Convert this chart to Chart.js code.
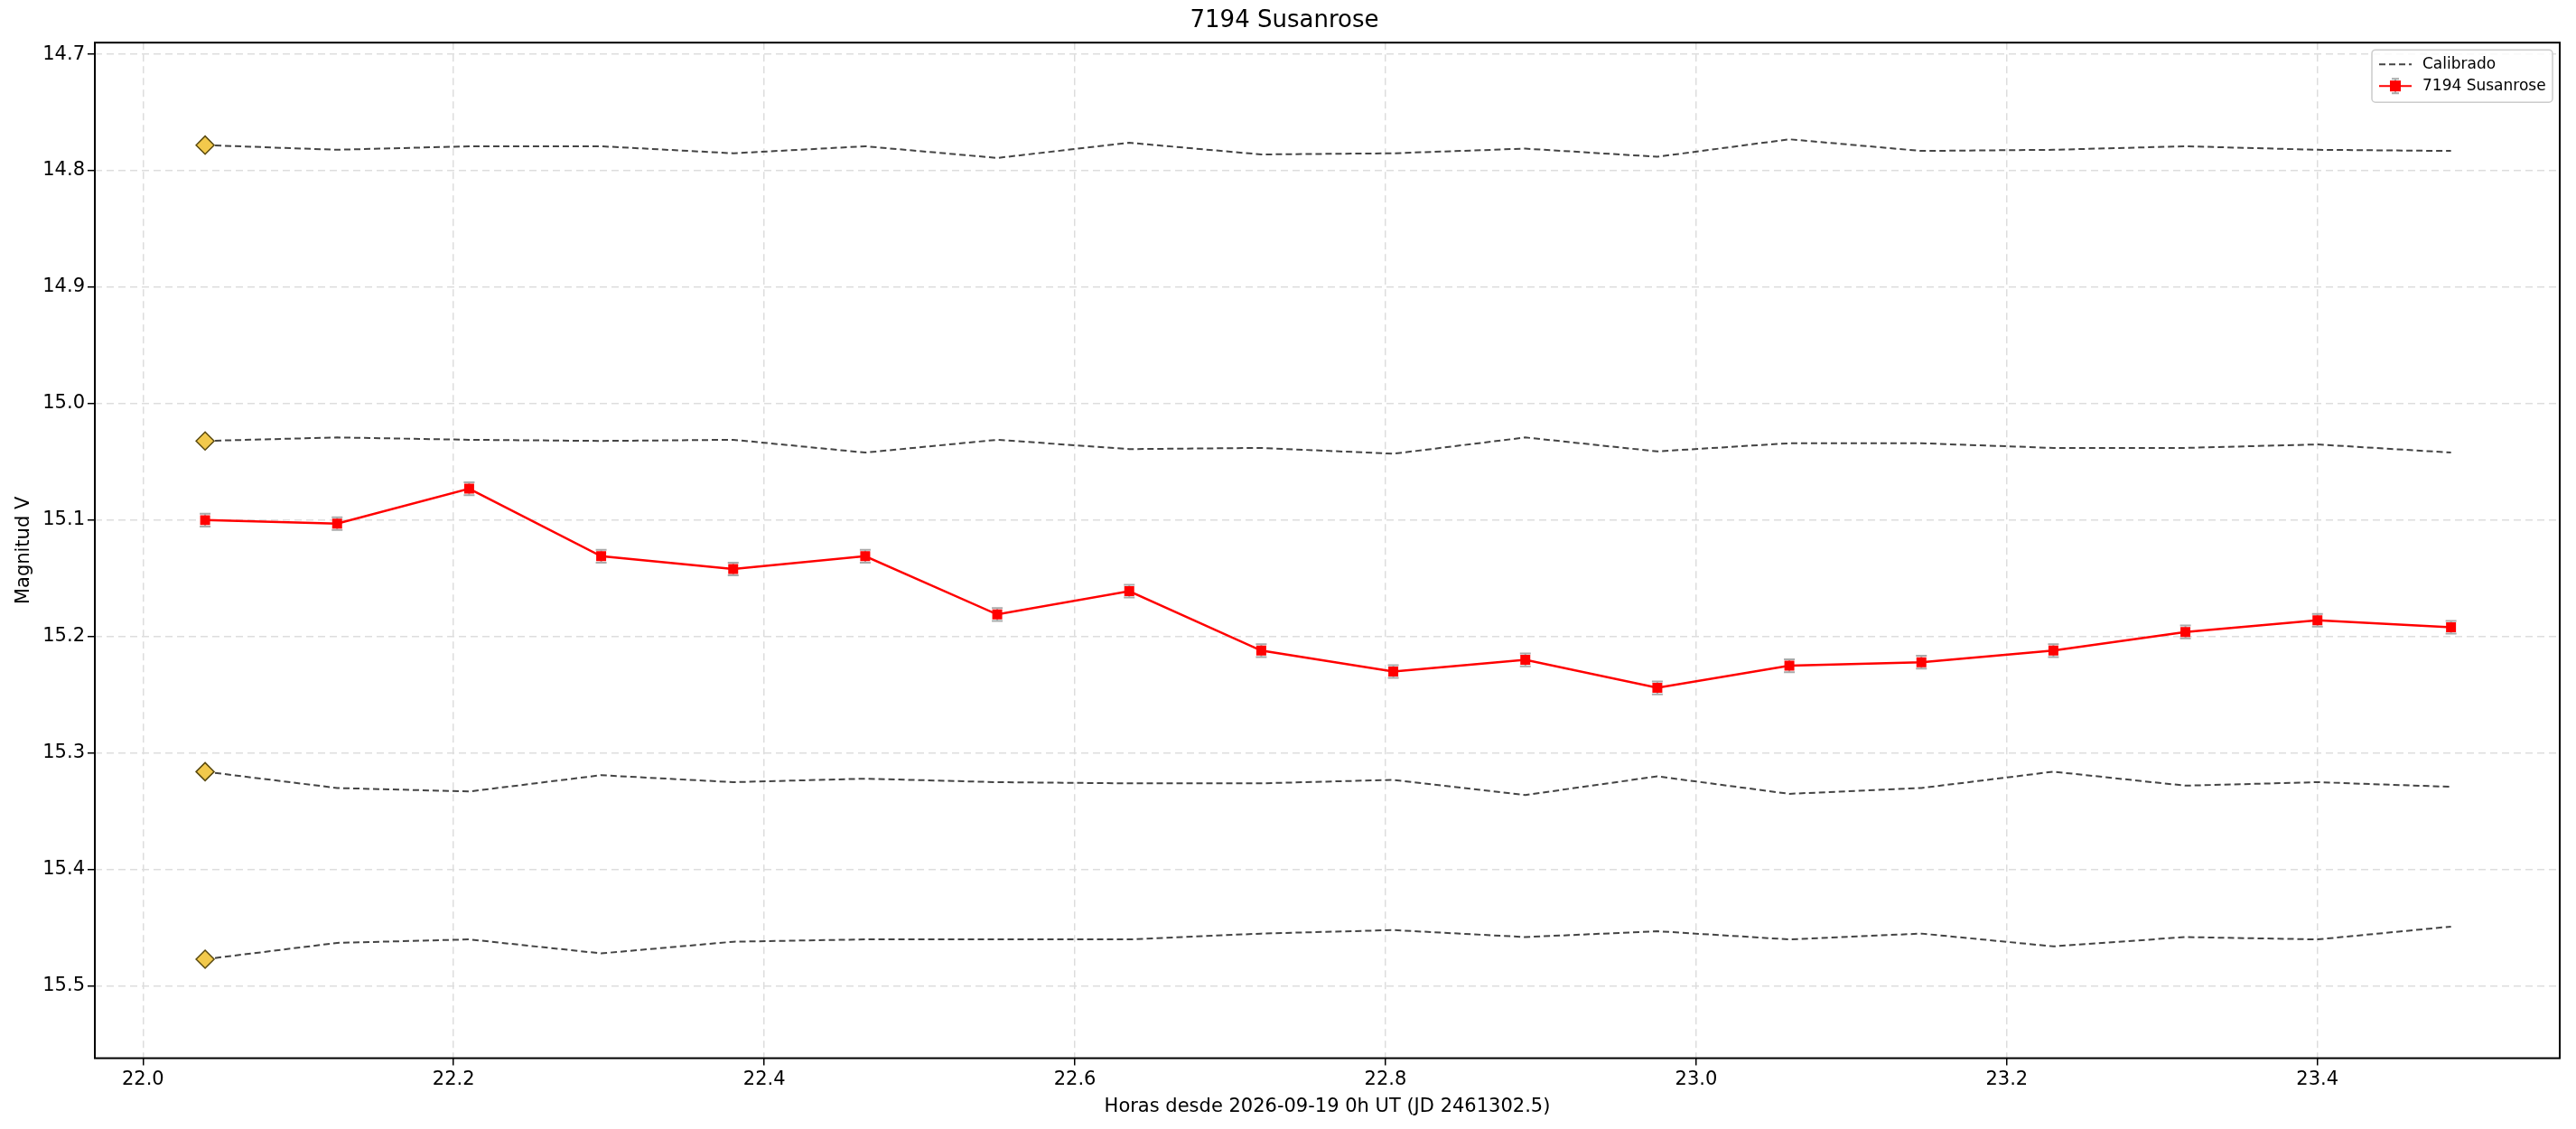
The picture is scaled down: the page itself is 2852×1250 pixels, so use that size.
<!DOCTYPE html>
<html>
<head>
<meta charset="utf-8">
<script src="https://cdn.jsdelivr.net/npm/chart.js@4/dist/chart.umd.min.js"></script>
<style>
  html, body { margin: 0; padding: 0; background: #fff; }
  #wrap { width: 2852px; height: 1250px; }
</style>
</head>
<body>
<div id="wrap"><canvas id="lc"></canvas></div>
<script>
const hours = [22.040, 22.125, 22.210, 22.295, 22.380, 22.465, 22.550, 22.635, 22.720,
  22.805, 22.890, 22.975, 23.060, 23.145, 23.230, 23.315, 23.400, 23.486];
const target = [15.100, 15.103, 15.073, 15.131, 15.142, 15.131, 15.181, 15.161, 15.212,
  15.230, 15.220, 15.244, 15.225, 15.222, 15.212, 15.196, 15.186, 15.192];
const targetErr = [0.0055, 0.0055, 0.0055, 0.0055, 0.0055, 0.0055, 0.0055, 0.0055, 0.0055,
  0.0055, 0.0055, 0.0055, 0.0055, 0.0055, 0.0055, 0.0055, 0.0055, 0.0055];
const calib1 = [14.778, 14.782, 14.779, 14.779, 14.785, 14.779, 14.789, 14.776, 14.786,
  14.785, 14.781, 14.788, 14.773, 14.783, 14.782, 14.779, 14.782, 14.783];
const calib2 = [15.032, 15.029, 15.031, 15.032, 15.031, 15.042, 15.031, 15.039, 15.038,
  15.043, 15.029, 15.041, 15.034, 15.034, 15.038, 15.038, 15.035, 15.042];
const calib3 = [15.316, 15.330, 15.333, 15.319, 15.325, 15.322, 15.325, 15.326, 15.326,
  15.323, 15.336, 15.320, 15.335, 15.330, 15.316, 15.328, 15.325, 15.329];
const calib4 = [15.477, 15.463, 15.460, 15.472, 15.462, 15.460, 15.460, 15.460, 15.455,
  15.452, 15.458, 15.453, 15.460, 15.455, 15.466, 15.458, 15.460, 15.449];
const xTicks = [22.0, 22.2, 22.4, 22.6, 22.8, 23.0, 23.2, 23.4];
const yTicks = [14.7, 14.8, 14.9, 15.0, 15.1, 15.2, 15.3, 15.4, 15.5];

const FONT = 'DejaVu Sans';
const pts = arr => arr.map((v, i) => ({ x: hours[i], y: v }));

function calibSet(arr) {
  return {
    label: 'Calibrado',
    data: pts(arr),
    showLine: true,
    borderColor: '#444',
    borderWidth: 2,
    borderDash: [7, 4],
    pointStyle: 'rectRot',
    pointRadius: arr.map((v, i) => i === 0 ? 10 : 0),
    pointBackgroundColor: '#f2c94c',
    pointBorderColor: '#5a4a10',
    pointBorderWidth: 1.5,
    order: 2
  };
}

const errorBars = {
  id: 'errorBars',
  beforeDatasetsDraw(chart) {
    const { ctx, scales: { x, y } } = chart;
    ctx.save();
    ctx.strokeStyle = '#aaa';
    ctx.lineWidth = 2;
    hours.forEach((h, i) => {
      const px = x.getPixelForValue(h);
      const y1 = y.getPixelForValue(target[i] - targetErr[i]);
      const y2 = y.getPixelForValue(target[i] + targetErr[i]);
      ctx.beginPath();
      ctx.moveTo(px, y1); ctx.lineTo(px, y2);
      ctx.moveTo(px - 6, y1); ctx.lineTo(px + 6, y1);
      ctx.moveTo(px - 6, y2); ctx.lineTo(px + 6, y2);
      ctx.stroke();
    });
    ctx.restore();
  }
};

const legendBox = {
  id: 'legendBox',
  afterDraw(chart) {
    const { ctx, chartArea } = chart;
    const w = 200, h = 58;
    const x0 = chartArea.right - w - 8, y0 = chartArea.top + 8;
    ctx.save();
    ctx.fillStyle = 'rgba(255,255,255,0.85)';
    ctx.strokeStyle = '#ccc';
    ctx.lineWidth = 1.5;
    ctx.beginPath();
    ctx.roundRect(x0, y0, w, h, 4);
    ctx.fill(); ctx.stroke();
    ctx.font = `17px "${FONT}"`;
    ctx.fillStyle = '#000';
    ctx.textBaseline = 'middle';
    ctx.strokeStyle = '#444'; ctx.lineWidth = 2; ctx.setLineDash([7, 4]);
    ctx.beginPath(); ctx.moveTo(x0 + 8, y0 + 16); ctx.lineTo(x0 + 44, y0 + 16); ctx.stroke();
    ctx.setLineDash([]);
    ctx.fillText('Calibrado', x0 + 56, y0 + 16);
    const ly = y0 + 40;
    ctx.strokeStyle = '#aaa';
    ctx.beginPath(); ctx.moveTo(x0 + 26, ly - 8); ctx.lineTo(x0 + 26, ly + 8);
    ctx.moveTo(x0 + 22, ly - 8); ctx.lineTo(x0 + 30, ly - 8);
    ctx.moveTo(x0 + 22, ly + 8); ctx.lineTo(x0 + 30, ly + 8); ctx.stroke();
    ctx.strokeStyle = 'red';
    ctx.beginPath(); ctx.moveTo(x0 + 8, ly); ctx.lineTo(x0 + 44, ly); ctx.stroke();
    ctx.fillStyle = 'red'; ctx.fillRect(x0 + 20, ly - 6, 12, 12);
    ctx.fillStyle = '#000';
    ctx.fillText('7194 Susanrose', x0 + 56, ly);
    ctx.restore();
  }
};

const frame = {
  id: 'frame',
  afterDraw(chart) {
    const { ctx, chartArea: a } = chart;
    ctx.save();
    ctx.strokeStyle = '#000'; ctx.lineWidth = 2;
    ctx.strokeRect(a.left, a.top, a.right - a.left, a.bottom - a.top);
    ctx.restore();
  }
};

new Chart(document.getElementById('lc'), {
  type: 'scatter',
  data: {
    datasets: [
      calibSet(calib1), calibSet(calib2), calibSet(calib3), calibSet(calib4),
      {
        label: '7194 Susanrose',
        data: pts(target),
        showLine: true,
        borderColor: 'red',
        borderWidth: 2.5,
        pointStyle: 'rect',
        pointRadius: 6,
        pointBackgroundColor: 'red',
        pointBorderColor: 'red',
        order: 1
      }
    ]
  },
  options: {
    responsive: true,
    maintainAspectRatio: false,
    animation: false,
    devicePixelRatio: 1,
    layout: { padding: { left: 10, right: 18, top: 0, bottom: 8 } },
    plugins: {
      legend: { display: false },
      tooltip: { enabled: false },
      title: {
        display: true,
        text: '7194 Susanrose',
        color: '#000',
        font: { family: FONT, size: 26, weight: 'normal' },
        padding: { top: 8, bottom: 8 }
      }
    },
    scales: {
      x: {
        type: 'linear',
        min: 21.969, max: 23.556,
        afterBuildTicks: s => { s.ticks = xTicks.map(v => ({ value: v })); },
        ticks: { color: '#000', font: { family: FONT, size: 21 }, callback: v => v.toFixed(1), maxRotation: 0 },
        grid: { color: '#ddd', lineWidth: 1.5, tickColor: '#000', tickLength: 8 },
        border: { display: false, dash: [8, 5] },
        title: { display: true, text: 'Horas desde 2026-09-19 0h UT (JD 2461302.5)', color: '#000',
                 font: { family: FONT, size: 21 }, padding: { top: 2 } }
      },
      y: {
        reverse: true,
        min: 14.690, max: 15.562,
        afterBuildTicks: s => { s.ticks = yTicks.map(v => ({ value: v })); },
        afterFit: s => { s.width = 95; },
        ticks: { color: '#000', font: { family: FONT, size: 21 }, callback: v => v.toFixed(1) },
        grid: { color: '#ddd', lineWidth: 1.5, tickColor: '#000', tickLength: 8 },
        border: { display: false, dash: [8, 5] },
        title: { display: true, text: 'Magnitud V', color: '#000', font: { family: FONT, size: 21 } }
      }
    }
  },
  plugins: [errorBars, legendBox, frame]
});
</script>
</body>
</html>
